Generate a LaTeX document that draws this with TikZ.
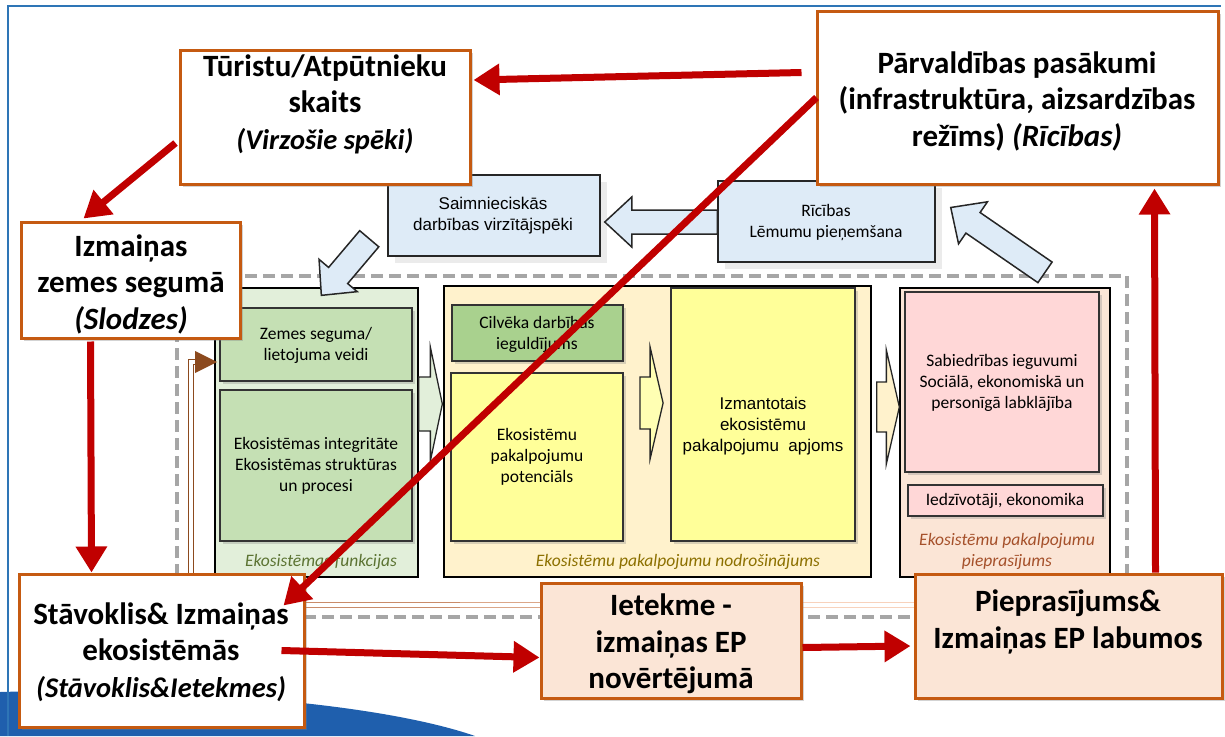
\documentclass[tikz,border=0pt]{standalone}
\usepackage{fontspec}
\setmainfont{Carlito}
\newfontfamily\arialf{Liberation Sans}
\usetikzlibrary{arrows.meta,calc,shadows,fit}
\definecolor{orb}{HTML}{C55A11}
\definecolor{peach}{HTML}{FBE5D6}
\definecolor{arred}{HTML}{C00000}
\definecolor{lblue}{HTML}{DEEBF7}
\definecolor{gpanel}{HTML}{E2EFDA}
\definecolor{gbox}{HTML}{C5E0B4}
\definecolor{gdark}{HTML}{A9D18E}
\definecolor{ypanel}{HTML}{FFF2CC}
\definecolor{ybox}{HTML}{FFFF99}
\definecolor{ychev}{HTML}{FFFFB3}
\definecolor{pbox}{HTML}{FFD7D7}
\definecolor{glab}{HTML}{5B7332}
\definecolor{ylab}{HTML}{8C7000}
\definecolor{plab}{HTML}{A5502A}
\definecolor{dashg}{HTML}{A6A6A6}
\definecolor{frameb}{HTML}{2E75B6}
\definecolor{blueshape}{HTML}{1F5FAD}
\definecolor{brownl}{HTML}{8C4A1E}
\definecolor{brA}{HTML}{C98B69}
\definecolor{brB}{HTML}{DBA688}
\definecolor{brC}{HTML}{EDBFA4}
\definecolor{brD}{HTML}{F8D2BC}

% block arrow: tail, tip, shaft half width, head half width, head length, style
\newcommand\blockarr[6]{%
  \coordinate (ba-t) at #1;
  \coordinate (ba-p) at #2;
  \coordinate (ba-b) at ($(ba-p)!#5!(ba-t)$);
  \draw[#6] ($(ba-t)!#3!90:(ba-p)$) -- ($(ba-b)!#3!90:(ba-p)$) -- ($(ba-b)!#4!90:(ba-p)$) -- (ba-p)
    -- ($(ba-b)!#4!-90:(ba-p)$) -- ($(ba-b)!#3!-90:(ba-p)$) -- ($(ba-t)!#3!-90:(ba-p)$) -- cycle;
}
\newcommand\itl[1]{{\fontsize{28.5}{36.5}\selectfont\itshape #1}}

\begin{document}
\begin{tikzpicture}[x=1pt,y=-1pt,
  ob/.style={draw=orb, line width=3pt, inner sep=0pt,
    drop shadow={shadow xshift=3pt, shadow yshift=-3pt, opacity=0.35}},
  big/.style={font=\fontsize{31}{36.5}\selectfont\bfseries, align=center, inner sep=0pt},
  small/.style={font=\fontsize{17.5}{21}\selectfont, align=center, inner sep=0pt},
  arl/.style={font=\arialf\fontsize{17}{21}\selectfont, align=center, inner sep=0pt},
  panel/.style={draw=black, line width=1.3pt, inner sep=0pt},
  ibox/.style={draw=black!80, line width=1.8pt, inner sep=0pt,
    drop shadow={shadow xshift=3pt, shadow yshift=-3pt, opacity=0.3}},
  bbox/.style={draw=black!85, line width=1.5pt, fill=lblue, inner sep=0pt,
    drop shadow={shadow xshift=7pt, shadow yshift=-7pt, fill=black!8, opacity=1}},
  barr/.style={fill=lblue, draw=black!85, line width=1.5pt},
  chev/.style={draw=black!85, line width=1.3pt},
  redarr/.style={draw=arred, line width=7pt, -{Triangle[length=26pt,width=30pt]}},
  plabel/.style={font=\fontsize{17.5}{21}\selectfont\itshape, align=center, inner sep=0pt},
  dbl/.style={line width=1.6pt, double=white, double distance=3.5pt},
]
\useasboundingbox (0,0) rectangle (1225,736);

% background decoration
\fill[blueshape] (0,692) .. controls (180,687) and (380,703) .. (475,736) -- (0,736) -- cycle;
\draw[frameb, line width=2.5pt] (8,736) -- (8,6) -- (1221,6);

% dashed frame
\draw[dashg, line width=3.5pt, dash pattern=on 12pt off 6pt] (177,276) rectangle (1127,617);

% panels
\node[panel, fill=gpanel, fit={(215,288)(418,577)}] (gp) {};
\node[panel, fill=ypanel, fit={(444,286)(871,577)}] (yp) {};
\node[panel, fill=peach, fit={(900,288)(1110,577)}] (pp) {};

% inner boxes
\node[ibox, fill=gbox, fit={(220,308)(412,381)}] (zem) {};
\node[small] (zem-t) at (316,345) {Zemes seguma/\\lietojuma veidi};
\node[ibox, fill=gbox, fit={(220,390)(412,541)}] (eko) {};
\node[small] (eko-t) at (316,466) {Ekosistēmas integritāte\\Ekosistēmas struktūras\\un procesi};
\node[ibox, fill=gdark, fit={(452,305)(623,361)}] (cil) {};
\node[small] (cil-t) at (537,334) {Cilvēka darbības\\ieguldījums};
\node[ibox, fill=ybox, fit={(451,373)(623,541)}] (pot) {};
\node[small] (pot-t) at (537,457) {Ekosistēmu\\pakalpojumu\\potenciāls};
\node[ibox, fill=ybox, fit={(671,288)(855,541)}] (izt) {};
\node[arl] (izt-t) at (763,426) {Izmantotais\\ekosistēmu\\pakalpojumu\ \ apjoms};
\node[ibox, fill=pbox, fit={(905,292)(1099,472)}] (sab) {};
\node[small] (sab-t) at (1002,383) {Sabiedrības ieguvumi\\Sociālā, ekonomiskā un\\personīgā labklājība};
\node[ibox, fill=pbox, fit={(908,485)(1103,516)}] (ied) {};
\node[small] (ied-t) at (1005,501) {Iedzīvotāji, ekonomika};

% panel labels
\node[plabel, text=glab] (gl) at (321,562) {Ekosistēmas funkcijas};
\node[plabel, text=ylab] (yl) at (678,562) {Ekosistēmu pakalpojumu nodrošinājums};
\node[plabel, text=plab] (pl) at (1007,551) {Ekosistēmu pakalpojumu\\pieprasījums};

% chevron arrows between panels
\blockarr{(gp.east |- 0,404)}{($(yp.west |- 0,404)+(-1,0)$)}{27pt}{57pt}{12pt}{chev, fill=gpanel}
\blockarr{($(pot.east |- 0,403)+(16,0)$)}{($(izt.west |- 0,403)+(-7,0)$)}{26pt}{56pt}{13pt}{chev, fill=ychev}
\blockarr{($(yp.east |- 0,407)+(5,0)$)}{(pp.west |- 0,407)}{25pt}{57pt}{13pt}{chev, fill=ypanel}

% blue boxes
\node[bbox, fit={(388,175)(600,256)}] (sai) {};
\node[arl] (sai-t) at (493,216) {Saimnieciskās\\darbības virzītājspēki};
\node[bbox, fit={(718,181)(935,262)}] (ric) {};
\node[small] (ric-t) at (826,223) {Rīcības\\Lēmumu pieņemšana};

% blue block arrows
\blockarr{(ric.west |- 0,222)}{($(sai.east |- 0,222)+(4,0)$)}{12pt}{25pt}{27pt}{barr}
\blockarr{($(sai.south west)+(-18,-18)$)}{($(gp.north west)+(107,8)$)}{12.5pt}{25pt}{26pt}{barr}
\blockarr{($(pp.north)+(40,-15)$)}{($(ric.east)+(15,-14)$)}{12.5pt}{25.5pt}{27pt}{barr}

% brown double connector
\coordinate (bt) at ($(zem.west)+(-2,17.5)$);
\draw[brownl, dbl] (1000,605) -- (191,605) -- (191,362) -- ($(bt)+(-21,0)$);
\draw[brA, dbl] (300,605) -- (460,605);
\draw[brB, dbl] (460,605) -- (610,605);
\draw[brC, dbl] (610,605) -- (760,605);
\draw[brD, dbl] (760,605) -- (1000,605);
\fill[brownl] ($(bt)+(-22,-11)$) -- (bt) -- ($(bt)+(-22,11)$) -- cycle;

% orange boxes
\node[ob, fill=white, fit={(180,50)(470,184)}] (tur) {};
\node[big] (tur-t) at (325,104) {Tūristu/Atpūtnieku\\skaits\\\itl{(Virzošie spēki)}};
\node[ob, fill=white, fit={(817,11)(1218,184)}] (parv) {};
\node[big] (parv-t) at (1017,101) {Pārvaldības pasākumi\\(infrastruktūra, aizsardzības\\režīms) \textit{(Rīcības)}};
\node[ob, fill=white, fit={(21,222)(240,338)}] (izm) {};
\node[big] (izm-t) at (131,284) {Izmaiņas\\zemes segumā\\\textit{(Slodzes)}};
\node[ob, fill=white, fit={(19,574)(304,727)}] (stav) {};
\node[big] (stav-t) at (161,652) {Stāvoklis\& Izmaiņas\\ekosistēmās\\\itl{(Stāvoklis\&Ietekmes)}};
\node[ob, fill=peach, fit={(541,583)(801,698)}] (iet) {};
\node[big] (iet-t) at (671,644) {Ietekme -\\izmaiņas EP\\novērtējumā};
\node[ob, fill=peach, fit={(915,574)(1222,698)}] (piep) {};
\node[big] (piep-t) at (1068,622) {Pieprasījums\&\\Izmaiņas EP labumos};

% red arrows
\draw[redarr] ($(parv.west)+(-14,-25)$) -- ($(tur.east)+(2,-37)$);
\draw[redarr] ($(tur.west)+(-3,26)$) -- ($(izm.north)+(-47,-2)$);
\draw[redarr] ($(izm.south)+(-40,2)$) -- ($(stav.north)+(-70,0)$);
\draw[redarr] ($(parv.west)+(1,0)$) -- ($(stav.north east)+(-22,33)$);
\draw[redarr] ($(stav.east)+(-24,0)$) -- ($(iet.west)+(0,17)$);
\draw[redarr] ($(iet.east)+(0,7)$) -- ($(piep.west)+(-3,10)$);
\draw[redarr] ($(piep.north)+(87,0)$) -- ($(parv.south)+(137,3)$);
\end{tikzpicture}
\end{document}
